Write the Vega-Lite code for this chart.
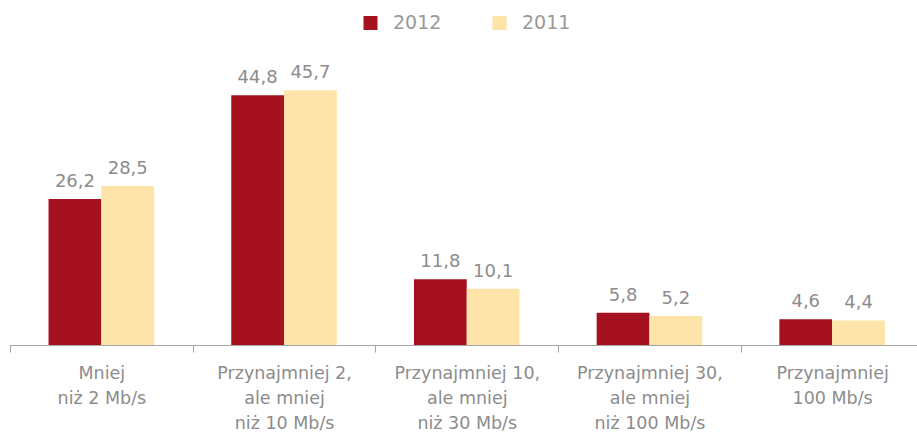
{
  "$schema": "https://vega.github.io/schema/vega-lite/v6.json",
  "width": 913.5,
  "height": 278.75,
  "autosize": {"type": "none"},
  "padding": {"left": 10, "top": 66.25, "right": 0, "bottom": 90},
  "background": "white",
  "config": {
    "view": {"stroke": null},
    "locale": {"number": {"decimal": ",", "thousands": " ", "grouping": [3], "currency": ["", " zł"]}}
  },
  "data": {
    "values": [
      {"cat": "Mniej|niż 2 Mb/s", "year": "2012", "value": 26.2},
      {"cat": "Mniej|niż 2 Mb/s", "year": "2011", "value": 28.5},
      {"cat": "Przynajmniej 2,|ale mniej|niż 10 Mb/s", "year": "2012", "value": 44.8},
      {"cat": "Przynajmniej 2,|ale mniej|niż 10 Mb/s", "year": "2011", "value": 45.7},
      {"cat": "Przynajmniej 10,|ale mniej|niż 30 Mb/s", "year": "2012", "value": 11.8},
      {"cat": "Przynajmniej 10,|ale mniej|niż 30 Mb/s", "year": "2011", "value": 10.1},
      {"cat": "Przynajmniej 30,|ale mniej|niż 100 Mb/s", "year": "2012", "value": 5.8},
      {"cat": "Przynajmniej 30,|ale mniej|niż 100 Mb/s", "year": "2011", "value": 5.2},
      {"cat": "Przynajmniej|100 Mb/s", "year": "2012", "value": 4.6},
      {"cat": "Przynajmniej|100 Mb/s", "year": "2011", "value": 4.4}
    ]
  },
  "encoding": {
    "x": {
      "field": "cat",
      "type": "nominal",
      "sort": null,
      "scale": {"paddingInner": 0, "paddingOuter": 0},
      "axis": {
        "title": null,
        "labelAngle": 0,
        "labelExpr": "split(datum.label, '|')",
        "labelFont": "DejaVu Sans",
        "labelFontSize": 17.5,
        "labelColor": "#8c8c8c",
        "labelLineHeight": 25,
        "labelPadding": 12,
        "labelLimit": 400,
        "tickBand": "extent",
        "tickSize": 7,
        "tickColor": "#a6a6a6",
        "domainColor": "#a6a6a6",
        "grid": false
      }
    },
    "xOffset": {
      "field": "year",
      "type": "nominal",
      "sort": ["2012", "2011"],
      "scale": {"paddingInner": 0, "paddingOuter": 0.73}
    },
    "y": {
      "field": "value",
      "type": "quantitative",
      "scale": {"domain": [0, 50]},
      "axis": null
    }
  },
  "layer": [
    {
      "mark": {"type": "bar"},
      "encoding": {
        "color": {
          "field": "year",
          "type": "nominal",
          "scale": {"domain": ["2012", "2011"], "range": ["#a6111f", "#ffe4a9"]},
          "legend": {
            "orient": "none",
            "direction": "horizontal",
            "legendX": 351,
            "legendY": -53,
            "title": null,
            "symbolType": "square",
            "symbolSize": 196,
            "symbolStrokeWidth": 0,
            "labelFont": "DejaVu Sans",
            "labelFontSize": 19,
            "labelColor": "#999999",
            "labelOffset": 13,
            "columnPadding": 48,
            "padding": 0
          }
        }
      }
    },
    {
      "mark": {
        "type": "text",
        "dy": -12,
        "baseline": "alphabetic",
        "font": "DejaVu Sans",
        "fontSize": 18,
        "color": "#8c8c8c"
      },
      "encoding": {
        "text": {"field": "value", "type": "quantitative", "format": ".1f"}
      }
    }
  ]
}
